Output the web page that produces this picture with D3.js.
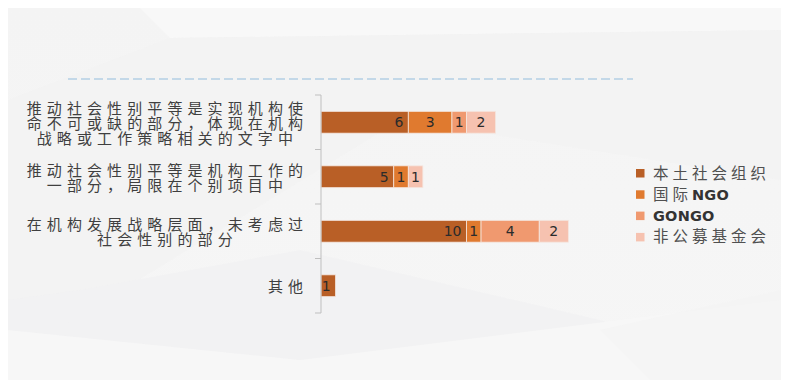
<!DOCTYPE html>
<html><head><meta charset="utf-8">
<script src="https://cdn.jsdelivr.net/npm/d3@7/dist/d3.min.js"></script>
<style>html,body{margin:0;padding:0;background:#fff;}svg{display:block;}</style>
</head><body>
<svg id="c" width="789" height="385"></svg>
<script>
const categories = [
  ["推动社会性别平等是实现机构使","命不可或缺的部分，体现在机构","战略或工作策略相关的文字中"],
  ["推动社会性别平等是机构工作的","一部分，局限在个别项目中"],
  ["在机构发展战略层面，未考虑过","社会性别的部分"],
  ["其他"]
];
const seriesNames = ["本土社会组织","国际NGO","GONGO","非公募基金会"];
const bentu   = [6, 5, 10, 1];
const guoji   = [3, 1, 1, 0];
const gongo   = [1, 0, 4, 0];
const feigong = [2, 1, 2, 0];
const colors = ["#B95F26","#E07A2F","#F0996F","#F6C2B0"];

const svg = d3.select("#c");
// background slide
const defs = svg.append("defs");
const g1 = defs.append("linearGradient").attr("id","bg").attr("x1","0").attr("y1","0").attr("x2","0").attr("y2","1");
g1.append("stop").attr("offset","0").attr("stop-color","#f4f4f4");
g1.append("stop").attr("offset","1").attr("stop-color","#f6f6f6");
svg.append("rect").attr("x",8).attr("y",8).attr("width",773).attr("height",372).attr("fill","url(#bg)");
const polys = [
  {p:[[140,8],[781,8],[781,30],[170,38]], f:"#f9f9f9"},
  {p:[[8,100],[170,38],[781,30],[781,180],[400,120],[8,360]], f:"#f2f2f2", o:0.6},
  {p:[[8,300],[80,290],[300,250],[600,320],[781,380],[8,380]], f:"#f1f1f2", o:0.7},
  {p:[[8,380],[8,330],[300,360],[781,300],[781,380]], f:"#f7f7f7"},
  {p:[[600,330],[781,290],[781,380],[650,380]], f:"#f4f4f4"}
];
polys.forEach(d=>svg.append("polygon").attr("points",d.p.map(q=>q.join(",")).join(" ")).attr("fill",d.f).attr("opacity",d.o||0.8));

// dashed line
svg.append("line").attr("x1",68).attr("x2",633).attr("y1",79).attr("y2",79)
  .attr("stroke","#c3d8e8").attr("stroke-width",1.8).attr("stroke-dasharray","9,4");

const y = d3.scaleBand().domain(d3.range(categories.length)).range([95,313]).paddingInner(0.6).paddingOuter(0.3);
const x = d3.scaleLinear().domain([0,20]).range([321,612]);

const series = [bentu, guoji, gongo, feigong];
const rows = categories.map((c,i)=>{const o={i}; seriesNames.forEach((s,k)=>o[s]=series[k][i]); return o;});
const stacked = d3.stack().keys(seriesNames)(rows);

const gBars = svg.append("g");
stacked.forEach((layer,k)=>{
  layer.forEach((d,i)=>{
    if (d[1]-d[0] <= 0) return;
    gBars.append("rect").attr("x",x(d[0])).attr("y",y(i)).attr("width",x(d[1])-x(d[0])).attr("height",y.bandwidth())
      .attr("fill",colors[k]).attr("stroke","#f4e6df").attr("stroke-width",0.8);
    const v = d[1]-d[0];
    const lx = k===0 ? x(d[1])-5 : (x(d[0])+x(d[1]))/2;
    gBars.append("text").attr("x",lx).attr("y",y(i)+y.bandwidth()/2+5)
      .attr("text-anchor",k===0?"end":"middle")
      .attr("font-family","DejaVu Sans, sans-serif").attr("font-size",14)
      .attr("fill","#2b2b2b").text(v);
  });
});

// axis
const ax = svg.append("g").attr("transform","translate(321,0)");
const bw = (313-95)/categories.length;
ax.append("line").attr("x1",0).attr("x2",0).attr("y1",95).attr("y2",313).attr("stroke","#bfbfbf").attr("stroke-width",1);
d3.range(categories.length+1).forEach(j=>{
  ax.append("line").attr("x1",-6).attr("x2",0).attr("y1",95+j*bw).attr("y2",95+j*bw).attr("stroke","#bfbfbf");
});

// category labels
const fontCat = "'Noto Sans CJK SC', sans-serif";
const ls = 5.1, fs = 15, lh = 15, rightEdge = 303;
categories.forEach((lines,i)=>{
  const cy = y(i)+y.bandwidth()/2 + 1;
  const tmp = lines.map(l=>{
    const t = svg.append("text").attr("font-family",fontCat).attr("font-size",fs).attr("letter-spacing",ls).text(l);
    const w = t.node().getComputedTextLength() - ls; t.remove(); return w;
  });
  const bwid = d3.max(tmp);
  const cx = rightEdge - bwid/2;
  lines.forEach((l,j)=>{
    svg.append("text").attr("x",cx - tmp[j]/2).attr("y",cy + (j-(lines.length-1)/2)*lh + 5.3)
      .attr("font-family",fontCat).attr("font-size",fs).attr("letter-spacing",ls)
      .attr("fill","#3f3f3f").text(l);
  });
});

// legend
const lg = svg.append("g");
seriesNames.forEach((s,k)=>{
  const ly = 173 + k*21.3;
  lg.append("rect").attr("x",636).attr("y",ly-4).attr("width",8.5).attr("height",8.5).attr("fill",colors[k]);
  const t = lg.append("text").attr("x",653).attr("y",ly+5.5).attr("font-size",15.5).attr("fill","#505050");
  const parts = s.match(/[A-Za-z]+|[^A-Za-z]+/g);
  parts.forEach(p=>{
    if (/^[A-Za-z]+$/.test(p)) {
      t.append("tspan").attr("font-family","DejaVu Sans, sans-serif").attr("font-weight","bold")
        .attr("font-size",14.5).attr("fill","#333333").attr("letter-spacing",0.2).text(p);
    } else {
      t.append("tspan").attr("font-family",fontCat).attr("letter-spacing",4).text(p);
    }
  });
});
</script>
</body></html>
